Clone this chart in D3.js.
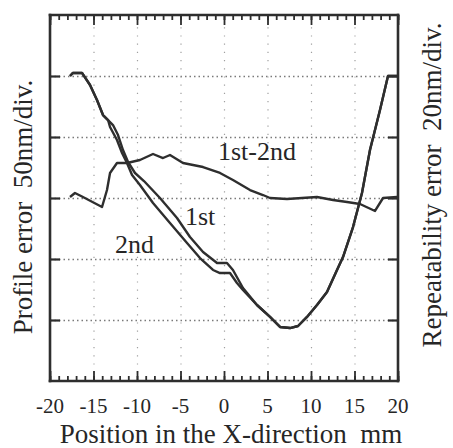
<!DOCTYPE html>
<html>
<head>
<meta charset="utf-8">
<script src="https://cdn.jsdelivr.net/npm/d3@7"></script>
<style>
    body { margin: 0; background: #fff; }
</style>
</head>
<body>
<div id="chart"></div>
<script>
(function() {
    'use strict';

    // x in mm, profile error in nm (50nm/div), repeatability in nm (20nm/div)
    var firstX = [-17.7, -17.36, -16.32, -15.4, -14.6, -13.91, -13.33, -12.76, -12.18, -11.61, -11.03, -10.23, -9.2,
        -7.36, -5.4, -3.91, -2.41, -0.8, 0.34, 1.03, 2.18, 3.79, 5.29, 6.44, 7.59, 8.51, 9.54, 10.69, 11.84,
        12.99, 13.68, 14.83, 15.86, 16.78, 17.93, 18.85, 19.89];
    var firstY = [100, 102.5, 102.5, 92.6, 80.3, 68, 63.9, 59.8, 51.6, 39.3, 29.5, 20.5, 13.9,
        0, -16.4, -32, -44.3, -53.3, -53.3, -59, -73.8, -87.7, -97.5, -105.7, -106.6, -104.9, -97.5, -87.7, -77,
        -59, -48.4, -23.8, 4.1, 39.3, 72.1, 100, 100];

    var secondX = [-17.7, -17.36, -16.32, -15.4, -14.6, -13.91, -13.33, -13.1, -12.3, -11.72, -11.15, -10.57, -9.66,
        -8.16, -6.21, -4.25, -2.76, -1.26, -0.46, 0.69, 1.49, 2.18, 3.79, 5.29, 6.44, 7.59, 8.51, 9.54, 10.69,
        11.84, 12.99, 13.68, 14.83, 15.86, 16.78, 17.93, 18.85, 19.89];
    var secondY = [100, 102.5, 102.5, 92.6, 80.3, 68, 63.9, 58.2, 47.5, 36.9, 28.7, 18.9, 10.7,
        -4.1, -20.5, -36.9, -49.2, -59, -61.5, -61.5, -69.7, -75.4, -87.7, -97.5, -105.7, -106.6, -104.9, -97.5, -87.7,
        -77, -59, -48.4, -23.8, 4.1, 39.3, 72.1, 100, 100];

    var diffX = [-17.7, -17.13, -16.21, -14.02, -13.45, -13.1, -12.3, -11.15, -9.66, -8.16, -7.01, -6.21, -4.71,
        -2.41, -0.46, 1.03, 2.99, 4.48, 5.29, 7.24, 10.69, 12.53, 14.14, 15.63, 17.36, 18.28, 19.89];
    var diffY = [0.33, 1.64, 0.33, -2.95, 2.62, 8.2, 11.48, 11.48, 12.46, 14.43, 13.11, 14.1, 11.48,
        10.16, 8.2, 5.9, 2.62, 0.98, 0, -0.33, 0.33, -0.66, -1.31, -1.97, -4.26, 0, 0.33];

    var xTicks = [-20, -15, -10, -5, 0, 5, 10, 15, 20];
    var profileTicks = [-100, -50, 0, 50, 100];
    var repeatTicks = [-40, -20, 0, 20, 40];

    var width = 453, height = 448;
    var m = { left: 50, top: 15, w: 348, h: 366 };
    var ink = '#2e2e2e';
    var serif = 'Liberation Serif, DejaVu Serif, serif';

    var svg = d3.select('#chart').append('svg')
        .attr('width', width)
        .attr('height', height);

    var x = d3.scaleLinear().domain([-20, 20]).range([m.left, m.left + m.w]);
    var yP = d3.scaleLinear().domain([-150, 150]).range([m.top + m.h, m.top]);
    var yR = d3.scaleLinear().domain([-60, 60]).range([m.top + m.h, m.top]);

    // dotted grid, drawn as axes with full-length ticks
    var hGrid = svg.append('g')
        .attr('transform', 'translate(' + m.left + ',0)')
        .call(d3.axisLeft(yP).tickValues(profileTicks).tickSize(-m.w).tickFormat(''));
    hGrid.selectAll('line')
        .attr('stroke', '#7a7a7a')
        .attr('stroke-width', 1.3)
        .attr('stroke-dasharray', '1.5,3');
    var vGrid = svg.append('g')
        .attr('transform', 'translate(0,' + (m.top + m.h) + ')')
        .call(d3.axisBottom(x).tickValues(xTicks.slice(1, -1)).tickSize(-m.h).tickFormat(''));
    vGrid.selectAll('line')
        .attr('stroke', '#a0a0a0')
        .attr('stroke-width', 1.2)
        .attr('stroke-dasharray', '1.2,7');
    hGrid.select('.domain').remove();
    vGrid.select('.domain').remove();

    // x ticks, top and bottom, pointing inward
    function xAxis(gen, ty) {
        var minor = svg.append('g')
            .attr('transform', 'translate(0,' + ty + ')')
            .call(gen(x).tickValues(d3.range(-20, 21, 1)).tickSize(-5).tickFormat(''));
        var major = svg.append('g')
            .attr('transform', 'translate(0,' + ty + ')')
            .call(gen(x).tickValues(xTicks).tickSize(-10).tickFormat(''));
        [minor, major].forEach(function(g) {
            g.select('.domain').remove();
            g.selectAll('line').attr('stroke', ink).attr('stroke-width', 1.8);
        });
    }
    xAxis(d3.axisBottom, m.top + m.h);
    xAxis(d3.axisTop, m.top);

    var left = svg.append('g')
        .attr('transform', 'translate(' + m.left + ',0)')
        .call(d3.axisLeft(yP).tickValues(profileTicks).tickSize(-10).tickFormat(''));
    var right = svg.append('g')
        .attr('transform', 'translate(' + (m.left + m.w) + ',0)')
        .call(d3.axisRight(yR).tickValues(repeatTicks).tickSize(-10).tickFormat(''));
    [left, right].forEach(function(g) {
        g.select('.domain').remove();
        g.selectAll('line').attr('stroke', ink).attr('stroke-width', 2.2);
    });

    // frame
    var edges = [
        [x(-20), yP(150), x(20), yP(150)],
        [x(20), yP(150), x(20), yP(-150)],
        [x(20), yP(-150), x(-20), yP(-150)],
        [x(-20), yP(-150), x(-20), yP(150)]
    ];
    svg.append('g').selectAll('line')
        .data(edges)
        .enter().append('line')
        .attr('x1', function(d) { return d[0]; })
        .attr('y1', function(d) { return d[1]; })
        .attr('x2', function(d) { return d[2]; })
        .attr('y2', function(d) { return d[3]; })
        .attr('stroke', ink)
        .attr('stroke-width', 2.6)
        .attr('stroke-linecap', 'square');

    // curves
    function series(xs, ys, yScale) {
        return xs.map(function(v, i) { return [x(v), yScale(ys[i])]; });
    }
    var curves = [
        series(firstX, firstY, yP),
        series(secondX, secondY, yP),
        series(diffX, diffY, yR)
    ];
    svg.selectAll('path.curve')
        .data(curves)
        .enter().append('path')
        .attr('class', 'curve')
        .attr('d', d3.line())
        .attr('fill', 'none')
        .attr('stroke', ink)
        .attr('stroke-width', 2.4)
        .attr('stroke-linejoin', 'round');

    function txt(sel) {
        return sel.attr('font-family', serif).attr('fill', '#262626').attr('xml:space', 'preserve');
    }

    // x tick labels
    txt(svg.append('g').selectAll('text')
        .data(xTicks)
        .enter().append('text'))
        .attr('x', function(d) { return x(d); })
        .attr('y', 413)
        .attr('text-anchor', 'middle')
        .attr('font-size', 21)
        .text(function(d) { return d; });

    txt(svg.append('text'))
        .attr('x', 231).attr('y', 443)
        .attr('text-anchor', 'middle')
        .attr('font-size', 27)
        .text('Position in the X-direction  mm');

    txt(svg.append('text'))
        .attr('transform', 'translate(32,207) rotate(-90)')
        .attr('text-anchor', 'middle')
        .attr('font-size', 27)
        .text('Profile error  50nm/div.');

    txt(svg.append('text'))
        .attr('transform', 'translate(441,185) rotate(-90)')
        .attr('text-anchor', 'middle')
        .attr('font-size', 27)
        .text('Repeatability error  20nm/div.');

    // inline curve labels
    var labels = [
        { t: '1st-2nd', x: 218, y: 160 },
        { t: '1st', x: 185, y: 225 },
        { t: '2nd', x: 115, y: 253 }
    ];
    txt(svg.append('g').selectAll('text')
        .data(labels)
        .enter().append('text'))
        .attr('x', function(d) { return d.x; })
        .attr('y', function(d) { return d.y; })
        .attr('font-size', 26)
        .text(function(d) { return d.t; });
})();
</script>
</body>
</html>
